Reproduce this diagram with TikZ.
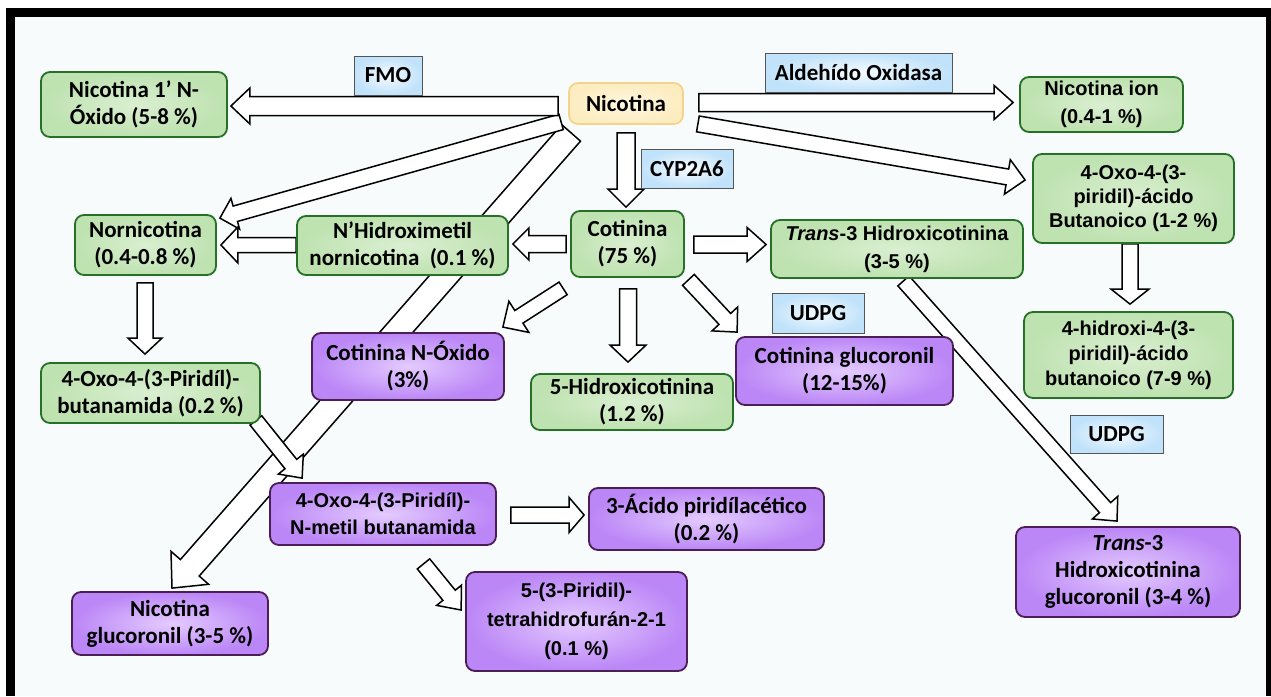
\documentclass[tikz,border=0pt]{standalone}
\usepackage{fontspec}
\newfontfamily\calfont{Carlito}
\newfontfamily\arifont{Liberation Sans}
\usetikzlibrary{calc}
\pgfdeclarelayer{bg}
\pgfdeclarelayer{arr}
\pgfsetlayers{bg,arr,main}
\definecolor{bgc}{RGB}{247,251,252}
\definecolor{gin}{RGB}{218,239,209}
\definecolor{gout}{RGB}{190,226,176}
\definecolor{gbd}{RGB}{38,112,40}
\definecolor{pin}{RGB}{228,203,255}
\definecolor{pout}{RGB}{187,134,246}
\definecolor{pbd}{RGB}{75,30,85}
\definecolor{yin}{RGB}{255,247,224}
\definecolor{yout}{RGB}{252,236,192}
\definecolor{ybd}{RGB}{244,212,140}
\definecolor{lin}{RGB}{246,251,255}
\definecolor{lout}{RGB}{192,226,250}
\definecolor{lbd}{RGB}{85,85,85}
\tikzset{
 base/.style={rounded corners=9pt, line width=1.8pt, align=center, inner sep=0pt, text=black},
 gbox/.style={base, draw=gbd, inner color=gin, outer color=gout},
 pbox/.style={base, draw=pbd, inner color=pin, outer color=pout},
 ybox/.style={base, draw=ybd, inner color=yin, outer color=yout},
 lbox/.style={draw=lbd, line width=1pt, inner color=lin, outer color=lout, inner sep=0pt, align=center},
 cf/.style={font=\calfont\bfseries\fontsize{23}{27}\selectfont},
 af/.style={font=\arifont\bfseries\fontsize{20}{#1}\selectfont},
 af/.default=25,
 barrow/.style={draw=black, fill=white, line width=1.5pt, line join=miter},
 sz/.style 2 args={minimum width=#1, minimum height=#2}
}
% block arrow: start, tip, half shaft, half head, head length
\newcommand\blockarr[5]{%
 \path (#1) coordinate (ba-s) (#2) coordinate (ba-t);
 \coordinate (ba-b) at ($(ba-t)!#5!(ba-s)$);
 \draw[barrow] ($(ba-s)!#3!90:(ba-t)$) -- ($(ba-b)!#3!-90:(ba-s)$) -- ($(ba-b)!#4!-90:(ba-s)$) -- (ba-t) -- ($(ba-b)!#4!90:(ba-s)$) -- ($(ba-b)!#3!90:(ba-s)$) -- ($(ba-s)!#3!-90:(ba-t)$) -- cycle;}
\begin{document}
\begin{tikzpicture}[x=1pt, y=-1pt]
\useasboundingbox (0,0) rectangle (1271,696);
\begin{pgfonlayer}{bg}
\fill[white] (0,0) rectangle (1271,696);
\fill[black] (6,8) rectangle (1271,696);
\fill[bgc] (15,17) rectangle (1266,696);
\end{pgfonlayer}

% nodes
\node[gbox, cf, sz={186pt}{65pt}] (n1ox) at (134,104.5) {Nicotina 1’ N-\\Óxido (5-8 \%)};
\node[ybox, cf, sz={114pt}{41pt}] (nic) at (626,103.5) {Nicotina};
\node[lbox, cf, sz={68pt}{39pt}] (fmo) at (388,75.5) {FMO};
\node[lbox, cf, sz={187pt}{39pt}] (ald) at (858.5,72.5) {Aldehído Oxidasa};
\node[gbox, af=28, sz={163pt}{55pt}] (ion) at (1101.5,104.5) {Nicotina ion\\(0.4-1 \%)};
\node[gbox, af=24, sz={201pt}{89pt}] (but) at (1133.5,198.5) {4-Oxo-4-(3-\\piridil)-ácido\\Butanoico (1-2 \%)};
\node[gbox, af=25, sz={209pt}{86pt}] (hid) at (1128.5,355) {4-hidroxi-4-(3-\\piridil)-ácido\\butanoico (7-9 \%)};
\node[gbox, cf, sz={141pt}{60pt}] (nor) at (145.5,245) {Nornicotina\\(0.4-0.8 \%)};
\node[gbox, cf, sz={211pt}{59pt}] (nhm) at (402.5,245.5) {N’Hidroximetil\\nornicotina~ (0.1 \%)};
\node[gbox, cf, sz={113pt}{66pt}] (cot) at (627.5,244) {Cotinina\\(75 \%)};
\node[gbox, af=28, sz={252pt}{58pt}] (tr3) at (897,249) {\textit{Trans}-3 Hidroxicotinina\\(3-5 \%)};
\node[gbox, cf, sz={219pt}{60pt}] (obut) at (150.5,393) {4-Oxo-4-(3-Piridíl)-\\butanamida (0.2 \%)};
\node[pbox, cf, sz={192pt}{67pt}] (cno) at (408,366.5) {Cotinina N-Óxido\\(3\%)};
\node[gbox, cf, sz={202pt}{56pt}] (h5) at (632,402) {5-Hidroxicotinina\\(1.2 \%)};
\node[pbox, cf, sz={217pt}{68pt}] (cgl) at (844.5,371) {Cotinina glucoronil\\(12-15\%)};
\node[pbox, af=27, sz={226pt}{62pt}] (nmb) at (383,514) {4-Oxo-4-(3-Piridíl)-\\N-metil butanamida};
\node[pbox, cf, sz={235pt}{62pt}] (acid) at (706.5,519) {3-Ácido piridílacético\\(0.2 \%)};
\node[pbox, cf, sz={196pt}{63pt}] (ngl) at (170,623.5) {Nicotina\\glucoronil (3-5 \%)};
\node[pbox, af=29, sz={221pt}{99pt}] (thf) at (576.5,621.5) {5-(3-Piridil)-\\tetrahidrofurán-2-1\\(0.1 \%)};
\node[pbox, cf, sz={224pt}{90pt}] (t3g) at (1128,572) {\textit{Trans}-3\\Hidroxicotinina\\glucoronil (3-4 \%)};
\node[lbox, cf, sz={92pt}{39pt}] (cyp) at (687,168.5) {CYP2A6};
\node[lbox, cf, sz={92pt}{40pt}] (udpga) at (818,313) {UDPG};
\node[lbox, cf, sz={93pt}{38pt}] (udpgb) at (1116.5,434) {UDPG};

% arrows
\begin{pgfonlayer}{arr}
\blockarr{$(nic.south west)+(3,8)$}{$(ngl.north)+(2,-3)$}{12.5pt}{25pt}{27pt}
\blockarr{$(nic.south west)+(-7,-3)$}{$(nor.north east)+(3,4)$}{8pt}{16pt}{16pt}
\blockarr{$(nic.west)+(-10,2.5)$}{$(n1ox.east)+(3,1.5)$}{9.5pt}{18pt}{19pt}
\blockarr{$(nic.east)+(15,-1)$}{$(ion.west)+(-6,-2)$}{9pt}{17pt}{19pt}
\blockarr{$(nic.south east)+(14,-1)$}{$(but.west)+(-7,-18.5)$}{8pt}{17.5pt}{18pt}
\blockarr{$(nic.south)+(0,8)$}{$(cot.north)+(-1.5,-3)$}{9pt}{18pt}{18pt}
\blockarr{$(cot.west)+(-4,0)$}{$(nhm.east)+(4,-1.5)$}{8.5pt}{16pt}{16pt}
\blockarr{$(nhm.west)+(0,-0.5)$}{$(nor.east)+(4,0)$}{7.5pt}{18pt}{17pt}
\blockarr{$(nor.south)+(-0.5,7)$}{$(obut.north)+(-5.5,-8)$}{8pt}{17pt}{16pt}
\blockarr{$(obut.south east)+(-5,-3.5)$}{$(nmb.north west)+(33,-4)$}{7.5pt}{16pt}{18pt}
\blockarr{$(cot.south west)+(-7,10.5)$}{$(cno.north east)+(-2,-5)$}{7.5pt}{18.5pt}{19pt}
\blockarr{$(cot.south)+(0.5,11)$}{$(h5.north)+(-4,-11)$}{8.5pt}{18pt}{17pt}
\blockarr{$(cot.south east)+(3.5,2)$}{$(cgl.north west)+(2,-4)$}{8pt}{17.5pt}{18pt}
\blockarr{$(cot.east)+(9,0.5)$}{$(tr3.west)+(-4,-4.5)$}{8.5pt}{17pt}{19pt}
\blockarr{$(tr3.south)+(6.5,2)$}{$(t3g.north)+(-11,-5)$}{7.5pt}{17pt}{18pt}
\blockarr{$(but.south)+(-3.5,0)$}{$(hid.north)+(1.5,-7)$}{8pt}{19pt}{15pt}
\blockarr{$(nmb.east)+(14,1)$}{$(acid.west)+(-4,-4)$}{8pt}{17.5pt}{15pt}
\blockarr{$(nmb.south)+(40.5,18)$}{$(thf.west)+(-4,-11.5)$}{8pt}{16pt}{19pt}
\end{pgfonlayer}
\end{tikzpicture}
\end{document}
